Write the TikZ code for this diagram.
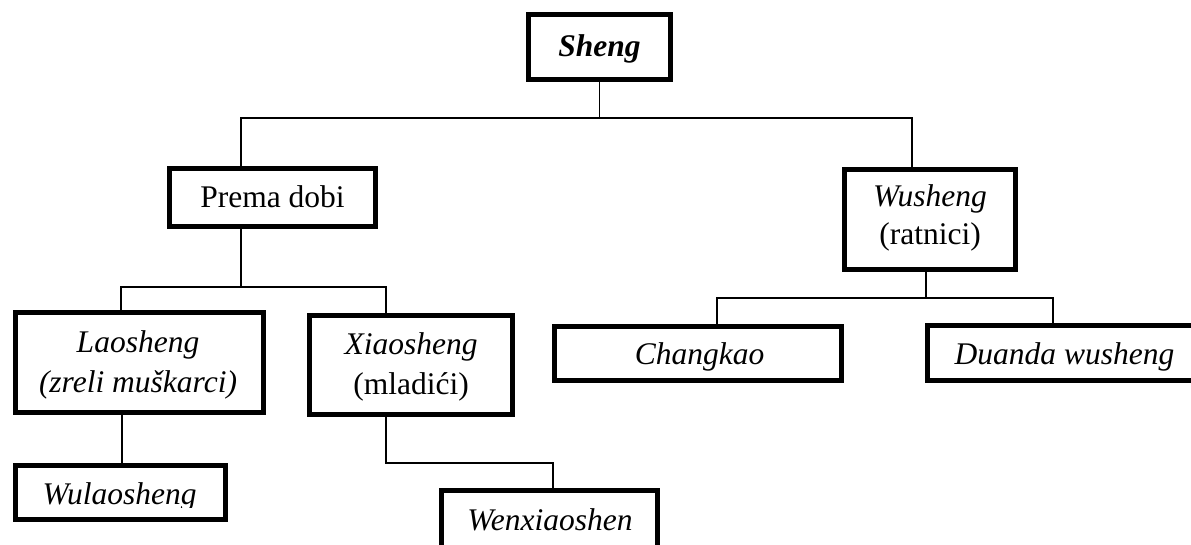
\documentclass[tikz,border=0pt]{standalone}
\usepackage{fontspec}
\setmainfont{Liberation Serif}
\begin{document}
\begin{tikzpicture}[x=1pt,y=-1pt,
  box/.style={draw=black, line width=5pt, fill=white, inner sep=0pt},
  conn/.style={draw=black, line width=1.8pt},
  txt/.style={inner sep=0pt, anchor=base, font=\fontsize{31.5}{39}\selectfont},
  itxt/.style={inner sep=0pt, anchor=base, font=\fontsize{31.5}{39}\selectfont\itshape}]
\clip (0,0) rectangle (1191,544);
\fill[white] (0,0) rectangle (1191,544);
% boxes
\node[box, minimum width=142pt, minimum height=65pt] (sheng) at (599.5,47) {};
\node[box, minimum width=206pt, minimum height=58pt] (prema) at (272.5,197.5) {};
\node[box, minimum width=171pt, minimum height=100pt] (wusheng) at (930,219.5) {};
\node[box, minimum width=248pt, minimum height=100pt] (lao) at (139.5,362.5) {};
\node[box, minimum width=203pt, minimum height=99pt] (xiao) at (411,365) {};
\node[box, minimum width=210pt, minimum height=54pt] (wulao) at (120.5,492.5) {};
\node[box, minimum width=216pt, minimum height=77pt] (wenx) at (549.5,529) {};
\node[box, minimum width=287pt, minimum height=54pt] (chang) at (698,353.5) {};
\node[box, minimum width=274pt, minimum height=55pt] (duanda) at (1064.5,353) {};
% texts
\node[itxt, font=\fontsize{31.5}{39}\selectfont\bfseries\itshape] (sheng-t) at (599.5,56) {Sheng};
\node[txt] (prema-t) at (272.5,207) {Prema dobi};
\node[itxt] (wusheng-t1) at (930,206) {Wusheng};
\node[txt] (wusheng-t2) at (930,244) {(ratnici)};
\node[itxt] (lao-t1) at (138,352.5) {Laosheng};
\node[itxt] (lao-t2) at (138,392.5) {(zreli muškarci)};
\node[itxt] (xiao-t1) at (411,354) {Xiaosheng};
\node[txt] (xiao-t2) at (411,394) {(mladići)};
\begin{scope}
  \clip (20,470) rectangle (222,507);
  \node[itxt] (wulao-t) at (119.5,504) {Wulaosheng};
\end{scope}
\begin{scope}
  \clip (560,330) rectangle (838,371.5);
  \node[itxt] (chang-t) at (699.5,364) {Changkao};
\end{scope}
\begin{scope}
  \clip (932,330) rectangle (1191,371.5);
  \node[itxt] (duanda-t) at (1064.5,364) {Duanda wusheng};
\end{scope}
\node[itxt] (wenx-t) at (550,530) {Wenxiaoshen};
% connectors
\coordinate (jL) at (241,118);
\coordinate (jR) at (912,118);
\draw[conn] (sheng.south) -- (sheng.south |- jL);
\draw[conn] (jL |- prema.north) -- (jL) -- (jR) -- (jR |- wusheng.north);
\coordinate (jP) at (241,287);
\coordinate (jPL) at (121,287);
\coordinate (jPR) at (386,287);
\draw[conn] (jP |- prema.south) -- (jP);
\draw[conn] (jPL |- lao.north) -- (jPL) -- (jPR) -- (jPR |- xiao.north);
\coordinate (cLao) at (122,440);
\draw[conn] (cLao |- lao.south) -- (cLao |- wulao.north);
\coordinate (jX1) at (386,463);
\coordinate (jX2) at (553,463);
\draw[conn] (jX1 |- xiao.south) -- (jX1) -- (jX2) -- (jX2 |- wenx.north);
\coordinate (jW) at (926,298);
\coordinate (jWL) at (717,298);
\coordinate (jWR) at (1053,298);
\draw[conn] (jW |- wusheng.south) -- (jW);
\draw[conn] (jWL |- chang.north) -- (jWL) -- (jWR) -- (jWR |- duanda.north);
\end{tikzpicture}
\end{document}
